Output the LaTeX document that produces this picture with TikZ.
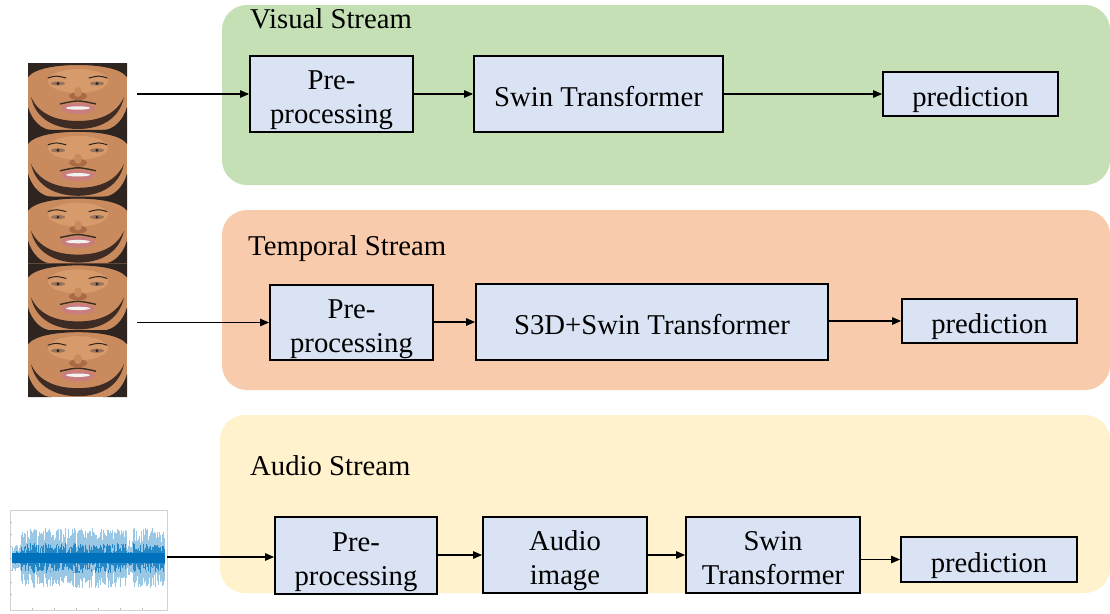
\documentclass[tikz,border=0pt]{standalone}
\usepackage{fontspec}
\setmainfont{Liberation Serif}
\usetikzlibrary{arrows.meta,calc}
\definecolor{vgreen}{HTML}{C5E0B4}
\definecolor{torange}{HTML}{F8CBAD}
\definecolor{ayellow}{HTML}{FFF2CC}
\definecolor{boxblue}{HTML}{DAE3F3}
\definecolor{wave}{HTML}{0072BD}
\definecolor{skin}{HTML}{C98B5E}
\definecolor{skinlt}{HTML}{D79A6A}
\definecolor{skindk}{HTML}{A86B45}
\definecolor{hair}{HTML}{2E2420}
\definecolor{beard}{HTML}{3E2C24}
\definecolor{lip}{HTML}{C97D7C}
\newcommand{\lbl}[1]{\raisebox{0pt}[\dimexpr\height+6pt\relax][\dimexpr\depth-6pt\relax]{\begin{tabular}{@{}c@{}}#1\end{tabular}}}
\tikzset{
  panel/.style={fill=#1, draw=none, rounded corners=25pt},
  stagebox/.style={draw=black, line width=1.8pt, fill=boxblue,
    inner sep=0pt, font=\fontsize{28.7}{34}\selectfont},
  paneltitle/.style={anchor=base west, inner sep=0pt, font=\fontsize{28.7}{33}\selectfont},
  arr/.style={line width=1.1pt, -{Triangle[length=9pt,width=7.5pt]}},
}
\begin{document}
\begin{tikzpicture}[x=1pt,y=-1pt]
\useasboundingbox (0,0) rectangle (1110,613);
\fill[white] (0,0) rectangle (1110,613);
% panels
\fill[panel=vgreen] (222,5) rectangle (1110,185);
\fill[panel=torange] (222,210) rectangle (1110,390);
\fill[panel=ayellow] (220,415) rectangle (1110,593);
\node[paneltitle] (vt) at (250,28) {Visual Stream};
\node[paneltitle] (tt) at (248,255) {Temporal Stream};
\node[paneltitle] (at) at (250,475) {Audio Stream};
% faces
\foreach \i in {0,...,4}{
  \begin{scope}[shift={(28,{63+\i*66.8})}]
    \begin{scope}
      \clip (0,0) rectangle (99,67);
      \fill[skin] (0,0) rectangle (99,67);
      \fill[skinlt] (50,18) ellipse [x radius=30, y radius=12];
      % hair
      \fill[hair] (0,0) -- (99,0) -- (99,14) .. controls (92,5) and (70,2) .. (50,2) .. controls (30,2) and (7,5) .. (0,14) -- cycle;
      % lower corners
      \fill[hair] (0,44) .. controls (4,58) and (14,67) .. (24,67) -- (0,67) -- cycle;
      \fill[hair] (99,44) .. controls (95,58) and (85,67) .. (75,67) -- (99,67) -- cycle;
      % beard
      \fill[beard] (3,34) .. controls (8,58) and (30,66) .. (50,66) .. controls (70,66) and (91,58) .. (96,34)
        .. controls (88,52) and (70,58) .. (50,58) .. controls (30,58) and (11,52) .. (3,34) -- cycle;
      % eyebrows
      \draw[hair, line width=1pt, line cap=round] (20,15) .. controls (28,12.5) .. (38,15);
      \draw[hair, line width=1pt, line cap=round] (61,15) .. controls (71,12.5) .. (79,15);
      % eyes
      \fill[skindk!60!gray] (30,20.5) ellipse [x radius=7, y radius=2];
      \fill[skindk!60!gray] (69,20.5) ellipse [x radius=7, y radius=2];
      \fill[hair] (30,20.5) circle (1.6);
      \fill[hair] (69,20.5) circle (1.6);
      % nose
      \fill[skindk] (50,33) ellipse [x radius=9, y radius=4];
      \fill[skin] (50,29) ellipse [x radius=4, y radius=5];
      % mustache
      \draw[beard, line width=1.4pt] (32,41) .. controls (50,37) .. (68,41);
      % mouth
      \fill[lip] (50,45.5) ellipse [x radius=17, y radius=5.5];
      \fill[white!90!gray] (50,45) ellipse [x radius=12, y radius=1.7];
    \end{scope}
  \end{scope}
}
% waveform
\begin{scope}
  \draw[gray!35, line width=0.5pt] (10,510) rectangle (167,610);
  \foreach \ty in {522,534,546,558,570,582,594}{\draw[gray!50, line width=0.4pt] (10,\ty) -- (12,\ty);}
  \foreach \tx in {32,54,76,98,120,142}{\draw[gray!50, line width=0.4pt] (\tx,610) -- (\tx,608);}
  \pgfmathsetseed{11}
  \foreach \k in {0,...,440}{
    \pgfmathsetmacro\xx{12+\k*0.347}
    \pgfmathsetmacro\env{(\k<25 ? 14 : (\k<330 ? 30 : (\k<350 ? 18 : 30)))}
    \pgfmathsetmacro\ua{\env*(0.3+0.7*rnd)}
    \pgfmathsetmacro\ub{\env*(0.3+0.7*rnd)}
    \draw[wave!40, line width=0.4pt] (\xx,{558-\ua}) -- (\xx,{558+\ub});
    \draw[wave!85, line width=0.5pt] (\xx,{558-0.5*\ua}) -- (\xx,{558+0.5*\ub});
  }
  \fill[wave] (12,553) rectangle (165,563);
\end{scope}
% visual stream
\node[stagebox, minimum width=163pt, minimum height=76pt] (vpre) at (331.5,94) {\lbl{Pre-\\processing}};
\node[stagebox, minimum width=249pt, minimum height=76pt] (vswin) at (598.5,94) {\lbl{Swin Transformer}};
\node[stagebox, minimum width=175pt, minimum height=44pt] (vpred) at (970.5,94) {\lbl{prediction}};
% temporal stream
\node[stagebox, minimum width=163pt, minimum height=75pt] (tpre) at (351.5,322.5) {\lbl{Pre-\\processing}};
\node[stagebox, minimum width=352pt, minimum height=76pt] (ts3d) at (652,322) {\lbl{S3D+Swin Transformer}};
\node[stagebox, minimum width=175pt, minimum height=44pt] (tpred) at (989.5,321) {\lbl{prediction}};
% audio stream
\node[stagebox, minimum width=162pt, minimum height=77pt] (apre) at (356,555.5) {\lbl{Pre-\\processing}};
\node[stagebox, minimum width=164pt, minimum height=76pt] (aimg) at (565,555) {\lbl{Audio\\image}};
\node[stagebox, minimum width=174pt, minimum height=76pt] (aswin) at (773,555) {\lbl{Swin\\Transformer}};
\node[stagebox, minimum width=176pt, minimum height=45pt] (apred) at (989,559.5) {\lbl{prediction}};
% inputs
\coordinate (vin) at (137,94);
\coordinate (tin) at (137,322.5);
\coordinate (ain) at (167,557);
\draw[arr] (vin) -- (vin -| vpre.west);
\draw[arr] (tin) -- (tin -| tpre.west);
\draw[arr] (ain) -- (ain -| apre.west);
% connectors
\draw[arr] (vpre.east |- vswin.west) -- (vswin.west);
\draw[arr] (vswin.east) -- (vpred.west);
\draw[arr] (tpre.east |- ts3d.west) -- (ts3d.west);
\draw[arr] (ts3d.east |- tpred.west) -- (tpred.west);
\draw[arr] (apre.east |- aimg.west) -- (aimg.west);
\draw[arr] (aimg.east |- aswin.west) -- (aswin.west);
\draw[arr] (aswin.east |- apred.west) -- (apred.west);
\end{tikzpicture}
\end{document}
